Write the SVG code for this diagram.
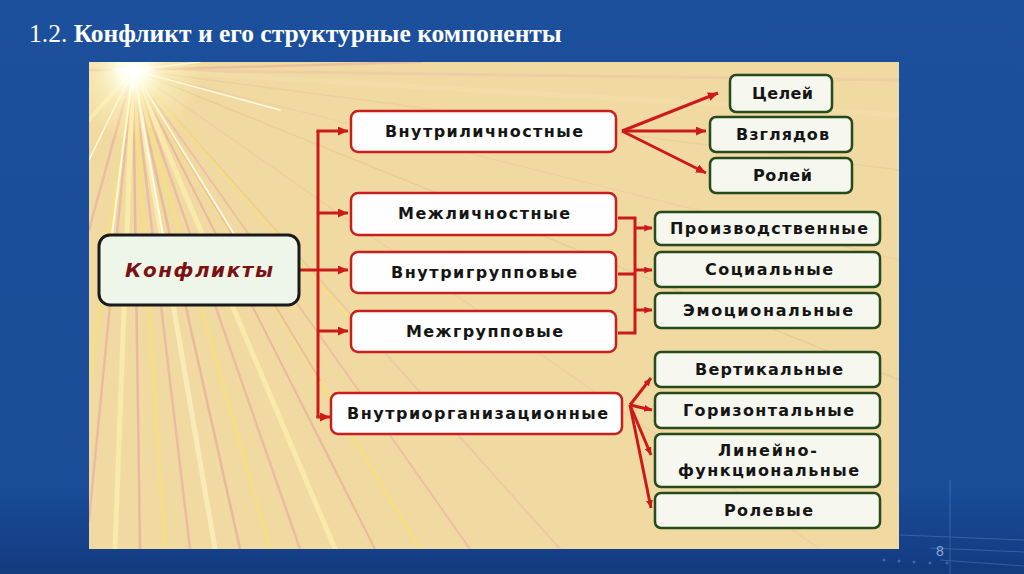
<svg xmlns="http://www.w3.org/2000/svg" width="1024" height="574" viewBox="0 0 1024 574">
<defs>
<linearGradient id="bg" x1="0" y1="0" x2="0" y2="1">
<stop offset="0" stop-color="#1c4f9c"/>
<stop offset="0.85" stop-color="#1a4c98"/>
<stop offset="1" stop-color="#123b80"/>
</linearGradient>
<radialGradient id="sun" cx="133" cy="70" r="70" gradientUnits="userSpaceOnUse">
<stop offset="0" stop-color="#ffffff" stop-opacity="1"/>
<stop offset="0.2" stop-color="#ffffee" stop-opacity="0.95"/>
<stop offset="0.5" stop-color="#fff8c8" stop-opacity="0.5"/>
<stop offset="1" stop-color="#fff6c0" stop-opacity="0"/>
</radialGradient>
<clipPath id="panelClip"><rect x="89" y="62" width="810" height="487"/></clipPath>
<marker id="ah" viewBox="0 0 10 9" refX="10" refY="4.5" markerWidth="10" markerHeight="9" markerUnits="userSpaceOnUse" orient="auto">
<path d="M0,0 L10,4.5 L0,9 z" fill="#cc1a1a"/>
</marker>
<marker id="ahs" viewBox="0 0 10 9" refX="10" refY="4.5" markerWidth="8" markerHeight="7" markerUnits="userSpaceOnUse" orient="auto">
<path d="M0,0 L10,4.5 L0,9 z" fill="#cc1a1a"/>
</marker>
</defs>
<style>
.title{font-family:"Liberation Serif","Times New Roman",serif;font-size:25.5px;fill:#ffffff}
.red{fill:#fefefe;stroke:#c81e1e;stroke-width:2.5}
.grn{fill:#f6f7ee;stroke:#254a1c;stroke-width:2.5}
.lbl{font-family:"DejaVu Sans",Verdana,sans-serif;font-weight:bold;font-size:16px;fill:#151515;text-anchor:middle}
.conn{fill:none;stroke:#cc1a1a;stroke-width:3}
.ray{fill:none;stroke-linecap:round}
</style>
<rect x="0" y="0" width="1024" height="574" fill="url(#bg)"/>
<g opacity="0.25" stroke="#9cc0f0" stroke-width="1" fill="none">
<line x1="900" y1="535" x2="1024" y2="540"/>
<line x1="930" y1="548" x2="1024" y2="552"/>
<line x1="940" y1="560" x2="1024" y2="566"/>
<line x1="950" y1="480" x2="950" y2="574"/>
</g>
<g fill="#5d86c8" opacity="0.6">
<circle cx="884" cy="560" r="1.5"/><circle cx="899" cy="561" r="1.5"/><circle cx="914" cy="562" r="1.5"/><circle cx="930" cy="563" r="1.5"/><circle cx="947" cy="563" r="1.5"/>
</g>
<text x="29" y="42" class="title">1.2. <tspan font-weight="bold">Конфликт и его структурные компоненты</tspan></text>
<text x="940" y="556" font-family="Liberation Sans, Arial, sans-serif" font-size="14" fill="#8fa8d4" text-anchor="middle">8</text>

<g id="panel" clip-path="url(#panelClip)">
<rect x="89" y="62" width="810" height="487" fill="#f1daa2"/>
<g class="ray" opacity="0.45">
<line x1="133" y1="70" x2="899" y2="80" stroke="#ecc0a8" stroke-width="3"/>
<line x1="133" y1="70" x2="899" y2="115" stroke="#f5e2b0" stroke-width="5"/>
<line x1="133" y1="70" x2="899" y2="170" stroke="#e2c49a" stroke-width="1.5"/>
<line x1="133" y1="70" x2="899" y2="260" stroke="#e8c8a0" stroke-width="1.5"/>
<line x1="133" y1="70" x2="899" y2="380" stroke="#dcc08a" stroke-width="1.5"/>
<line x1="133" y1="70" x2="820" y2="549" stroke="#e6c4a0" stroke-width="1.5"/>
<line x1="133" y1="70" x2="680" y2="549" stroke="#f3e09a" stroke-width="2"/>
<line x1="133" y1="70" x2="560" y2="549" stroke="#e6b8a0" stroke-width="2"/>
</g>
<g class="ray" opacity="0.6">
<line x1="133" y1="70" x2="470" y2="549" stroke="#e9b0a0" stroke-width="2"/>
<line x1="133" y1="70" x2="420" y2="549" stroke="#f7e27a" stroke-width="4"/>
<line x1="133" y1="70" x2="375" y2="549" stroke="#e3a598" stroke-width="2"/>
<line x1="133" y1="70" x2="335" y2="549" stroke="#fff3b0" stroke-width="5"/>
<line x1="133" y1="70" x2="300" y2="549" stroke="#e9a9a0" stroke-width="2.5"/>
<line x1="133" y1="70" x2="270" y2="549" stroke="#f7e27a" stroke-width="4"/>
<line x1="133" y1="70" x2="240" y2="549" stroke="#e3a598" stroke-width="2.5"/>
<line x1="133" y1="70" x2="215" y2="549" stroke="#fff6c8" stroke-width="5"/>
<line x1="133" y1="70" x2="190" y2="549" stroke="#e9a9a0" stroke-width="2.5"/>
<line x1="133" y1="70" x2="165" y2="549" stroke="#f7e27a" stroke-width="4"/>
<line x1="133" y1="70" x2="140" y2="549" stroke="#e3a598" stroke-width="2.5"/>
<line x1="133" y1="70" x2="115" y2="549" stroke="#fff3b0" stroke-width="5"/>
<line x1="133" y1="70" x2="89" y2="520" stroke="#e9a9a0" stroke-width="2.5"/>
<line x1="133" y1="70" x2="89" y2="380" stroke="#f7e27a" stroke-width="4"/>
<line x1="133" y1="70" x2="89" y2="230" stroke="#e9a9a0" stroke-width="2.5"/>
<line x1="133" y1="70" x2="89" y2="120" stroke="#fff3b0" stroke-width="4"/>
<line x1="133" y1="70" x2="89" y2="70" stroke="#e9a9a0" stroke-width="2.5"/>
<line x1="133" y1="70" x2="420" y2="62" stroke="#e8b0a0" stroke-width="2.5"/>
<line x1="133" y1="70" x2="360" y2="330" stroke="#f7e27a" stroke-width="3"/>
<line x1="133" y1="70" x2="320" y2="380" stroke="#e9a9a0" stroke-width="2"/>
</g>
<g class="ray" opacity="0.85" stroke="#ffffe8">
<line x1="133" y1="70" x2="175" y2="300" stroke-width="2"/>
<line x1="133" y1="70" x2="250" y2="260" stroke-width="2"/>
<line x1="133" y1="70" x2="110" y2="250" stroke-width="2"/>
<line x1="133" y1="70" x2="280" y2="110" stroke-width="1.5"/>
<line x1="133" y1="70" x2="89" y2="160" stroke-width="1.5"/>
<line x1="133" y1="70" x2="200" y2="62" stroke-width="1.5"/>
</g>
<circle cx="133" cy="70" r="70" fill="url(#sun)"/>
<path d="M133,48 L136,67 L155,70 L136,73 L133,92 L130,73 L111,70 L130,67 z" fill="#ffffff"/>
</g>

<g id="connectors">
<path class="conn" d="M299,270 H348" marker-end="url(#ah)"/>
<path class="conn" d="M318,131 V418"/>
<path class="conn" d="M316.5,131 H348" marker-end="url(#ah)"/>
<path class="conn" d="M318,213 H348" marker-end="url(#ah)"/>
<path class="conn" d="M318,331 H348" marker-end="url(#ah)"/>
<path class="conn" d="M316.5,417 H330" marker-end="url(#ah)"/>
<path class="conn" d="M622,131 L718,93" marker-end="url(#ah)"/>
<path class="conn" d="M622,131 H706" marker-end="url(#ah)"/>
<path class="conn" d="M622,131 L706,173" marker-end="url(#ah)"/>
<path class="conn" d="M618,218 H635 M618,274 H635 M618,333 H635 M635,216.5 V334.5"/>
<path class="conn" d="M635,228 H652" marker-end="url(#ahs)"/>
<path class="conn" d="M635,270 H652" marker-end="url(#ahs)"/>
<path class="conn" d="M635,310 H652" marker-end="url(#ahs)"/>
<path class="conn" d="M630,405 L651,378" marker-end="url(#ahs)"/>
<path class="conn" d="M630,405 L652,410" marker-end="url(#ahs)"/>
<path class="conn" d="M630,405 L651,455" marker-end="url(#ahs)"/>
<path class="conn" d="M630,405 L651,508" marker-end="url(#ahs)"/>
</g>

<g id="n-konflikty">
<rect x="99" y="235" width="200" height="70" rx="11" fill="#eef6ea" stroke="#1a1a1a" stroke-width="3"/>
<text x="199" y="277" font-family="DejaVu Sans, Verdana, sans-serif" font-weight="bold" font-style="italic" font-size="20" fill="#7a1212" text-anchor="middle" textLength="148" lengthAdjust="spacing">Конфликты</text>
</g>
<g id="n-vnutrilichnostnye">
<rect class="red" x="351" y="111" width="265" height="41" rx="7"/>
<text class="lbl" x="484" y="137" textLength="198" lengthAdjust="spacing">Внутриличностные</text>
</g>
<g id="n-mezhlichnostnye">
<rect class="red" x="351" y="193" width="265" height="42" rx="7"/>
<text class="lbl" x="484" y="219" textLength="172" lengthAdjust="spacing">Межличностные</text>
</g>
<g id="n-vnutrigruppovye">
<rect class="red" x="351" y="252" width="265" height="41" rx="7"/>
<text class="lbl" x="484" y="278" textLength="186" lengthAdjust="spacing">Внутригрупповые</text>
</g>
<g id="n-mezhgruppovye">
<rect class="red" x="351" y="311" width="265" height="41" rx="7"/>
<text class="lbl" x="484.5" y="337" textLength="157" lengthAdjust="spacing">Межгрупповые</text>
</g>
<g id="n-vnutriorg">
<rect class="red" x="331" y="393" width="291" height="41" rx="7"/>
<text class="lbl" x="477.5" y="419" textLength="261" lengthAdjust="spacing">Внутриорганизационные</text>
</g>
<g id="n-tselei">
<rect class="grn" x="730" y="75" width="102" height="37" rx="6"/>
<text class="lbl" x="782.5" y="99" textLength="61" lengthAdjust="spacing">Целей</text>
</g>
<g id="n-vzglyadov">
<rect class="grn" x="710" y="117" width="142" height="35" rx="6"/>
<text class="lbl" x="782.5" y="140" textLength="93" lengthAdjust="spacing">Взглядов</text>
</g>
<g id="n-rolei">
<rect class="grn" x="710" y="158" width="142" height="35" rx="6"/>
<text class="lbl" x="782.5" y="181" textLength="59" lengthAdjust="spacing">Ролей</text>
</g>
<g id="n-proizv">
<rect class="grn" x="655" y="212" width="225" height="33" rx="6"/>
<text class="lbl" x="769" y="234" textLength="198" lengthAdjust="spacing">Производственные</text>
</g>
<g id="n-sots">
<rect class="grn" x="655" y="252" width="225" height="35" rx="6"/>
<text class="lbl" x="769" y="275" textLength="128" lengthAdjust="spacing">Социальные</text>
</g>
<g id="n-emots">
<rect class="grn" x="655" y="293" width="225" height="35" rx="6"/>
<text class="lbl" x="768" y="316" textLength="170" lengthAdjust="spacing">Эмоциональные</text>
</g>
<g id="n-vert">
<rect class="grn" x="655" y="352" width="225" height="35" rx="6"/>
<text class="lbl" x="769" y="375" textLength="148" lengthAdjust="spacing">Вертикальные</text>
</g>
<g id="n-goriz">
<rect class="grn" x="655" y="393" width="225" height="35" rx="6"/>
<text class="lbl" x="768.5" y="416" textLength="171" lengthAdjust="spacing">Горизонтальные</text>
</g>
<g id="n-lin">
<rect class="grn" x="655" y="434" width="225" height="53" rx="6"/>
<text class="lbl" x="767.5" y="456" textLength="99" lengthAdjust="spacing">Линейно-</text>
<text class="lbl" x="768.5" y="476" textLength="181" lengthAdjust="spacing">функциональные</text>
</g>
<g id="n-rolevye">
<rect class="grn" x="655" y="493" width="225" height="35" rx="6"/>
<text class="lbl" x="768.5" y="516" textLength="89" lengthAdjust="spacing">Ролевые</text>
</g>
</svg>
